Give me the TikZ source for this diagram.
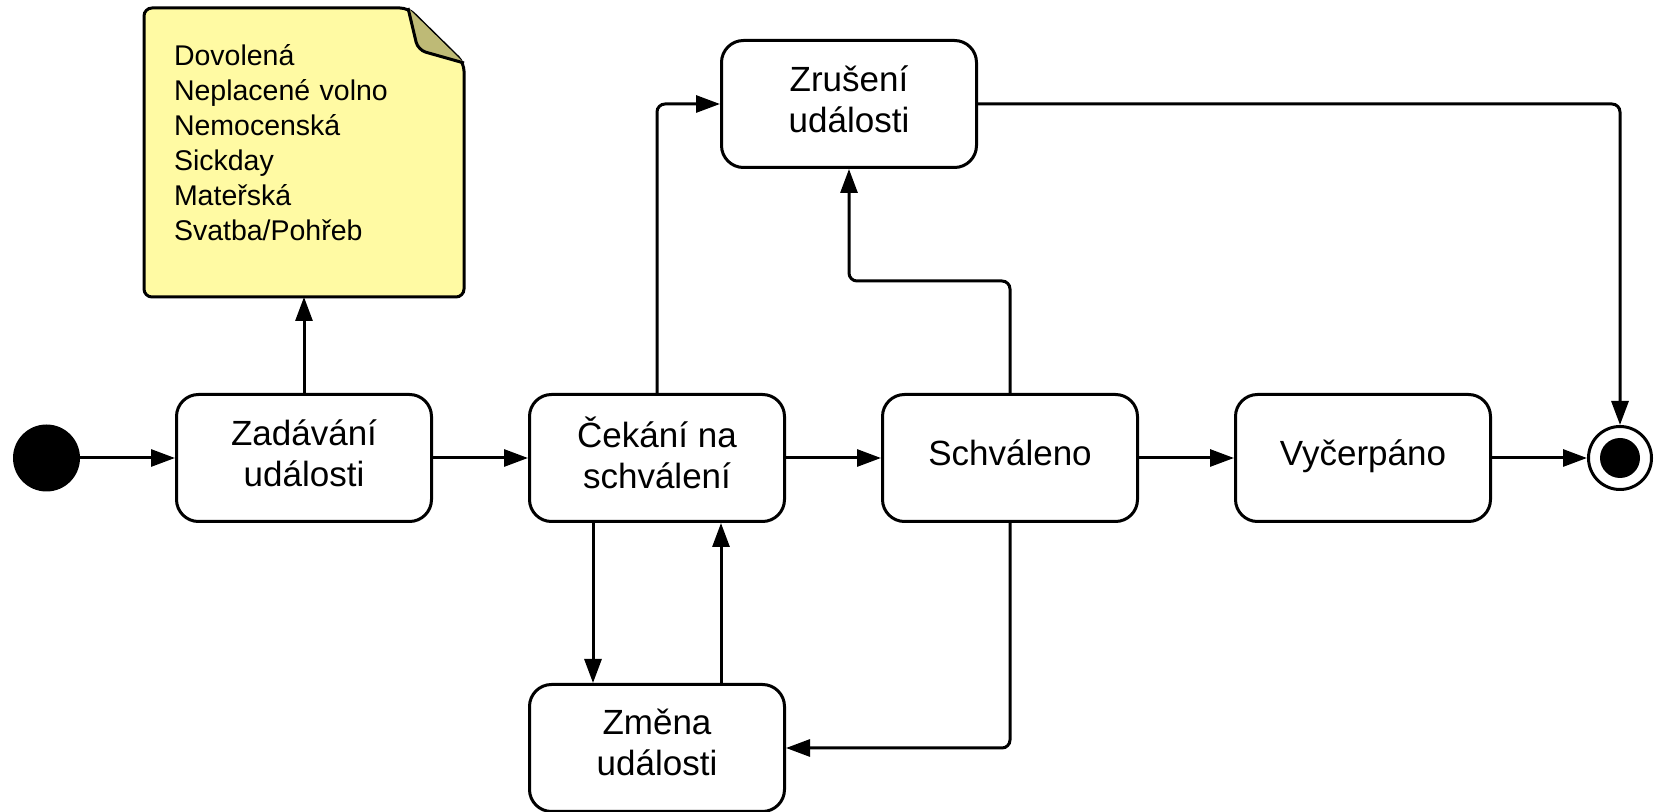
\documentclass[tikz,border=0pt]{standalone}
\usepackage{fontspec}
\setmainfont{Liberation Sans}
\usetikzlibrary{arrows.meta, positioning}

\definecolor{noteyellow}{RGB}{255,250,163}
\definecolor{notefold}{RGB}{190,186,118}

\begin{document}
\begin{tikzpicture}[x=0.5pt, y=-0.5pt, node distance=47.5pt, line width=1.5pt,
        font=\fontsize{17.5}{20.5}\selectfont,
        >={Triangle[length=12pt, width=8.5pt]},
        state/.style={draw, rounded corners=11pt, minimum width=127.5pt, minimum height=63.5pt,
            align=center, inner sep=0pt, execute at end node={\rule[-5.3pt]{0pt}{0pt}}},
        initstate/.style={circle, fill=black, minimum size=33.5pt, inner sep=0pt, outer sep=0pt},
        finalstate/.style={circle, draw, fill=white, minimum size=31.5pt, inner sep=0pt,
            path picture={\fill[black] (path picture bounding box.center) circle (20);}},
        flow/.style={->, rounded corners=4pt}]
        \useasboundingbox (0,0) rectangle (1662,812);

        \node[initstate] (start) at (46.5,458) {};
        \node[state] (zadavani) [right=of start] {Zadávání\\události};
        \node[state] (cekani) [right=of zadavani] {Čekání na\\schválení};
        \node[state] (schvaleno) [right=of cekani] {Schváleno};
        \node[state] (vycerpano) [right=of schvaleno] {Vyčerpáno};
        \node[finalstate] (konec) [right=of vycerpano] {};
        \node[state] (zruseni) at (849,104) {Zrušení\\události};
        \node[state] (zmena) [below=80pt of cekani] {Změna\\události};
        \node[minimum width=160pt, minimum height=144.5pt, outer sep=0pt, inner sep=0pt]
            (typy) [above=48pt of zadavani] {};

        % poznamka s ohnutym rohem
        \filldraw[fill=noteyellow, rounded corners=4pt] (typy.south west) -- (typy.north west)
            -- ([shift={(-56,0)}]typy.north east) -- ([shift={(0,55)}]typy.north east)
            -- (typy.south east) -- cycle;
        \filldraw[fill=notefold, rounded corners=4pt] ([shift={(-56,0)}]typy.north east)
            -- ([shift={(-46,42)}]typy.north east) -- ([shift={(0,55)}]typy.north east);
        \node[text width=134pt, align=left, inner sep=0pt, font=\fontsize{14.25}{17.5}\selectfont]
            (typytext) at ([xshift=2pt, yshift=4.7pt]typy.center)
            {Dovolená\\Neplacené volno\\Nemocenská\\Sickday\\Mateřská\\Svatba/Pohřeb};

        \draw[flow] (start) -- (zadavani);
        \draw[flow] (zadavani) -- (typy);
        \draw[flow] (zadavani) -- (cekani);
        \draw[flow] (cekani) -- (schvaleno);
        \draw[flow] (schvaleno) -- (vycerpano);
        \draw[flow] (vycerpano) -- (konec);
        \draw[flow] (cekani.north) |- (zruseni.west);
        \draw[flow] (schvaleno.north) -- ++(0,-112) -| (zruseni.south);
        \draw[flow] (zruseni.east) -| (konec.north);
        \draw[flow] ([xshift=-32pt]cekani.south) -- ([xshift=-32pt]zmena.north);
        \draw[flow] ([xshift=32pt]zmena.north) -- ([xshift=32pt]cekani.south);
        \draw[flow] (schvaleno.south) |- (zmena.east);

        \end{tikzpicture}
\end{document}
